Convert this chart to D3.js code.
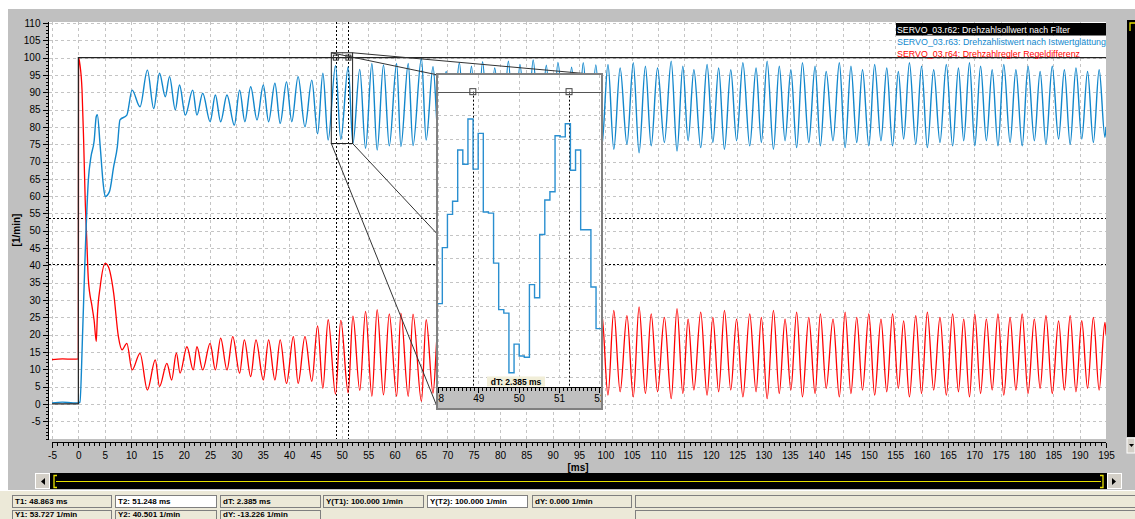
<!DOCTYPE html>
<html>
<head>
<meta charset="utf-8">
<script src="https://cdnjs.cloudflare.com/ajax/libs/d3/7.8.5/d3.min.js"></script>
<style>
body { margin: 0; background: #fff; }
svg { display: block; font-family: "Liberation Sans", Arial, sans-serif; }
.grid line { stroke: #c4c4c4; stroke-dasharray: 3,3; shape-rendering: crispEdges; }
.axis path, .axis line { stroke: #000; shape-rendering: crispEdges; }
.axis text { font-size: 10px; fill: #000; }
.cursor { stroke: #000; stroke-dasharray: 2,2; shape-rendering: crispEdges; }
.statusbar text { font-size: 8px; font-weight: bold; fill: #000; }
</style>
</head>
<body>
<svg id="vis" width="1135" height="519"></svg>
<script>
// signal names
var legendLabels = ["SERVO_03.r62: Drehzahlsollwert nach Filter",
                    "SERVO_03.r63: Drehzahlistwert nach Istwertglättung",
                    "SERVO_03.r64: Drehzahlregler Regeldifferenz"];
var legendColors = ["#fff", "#1287cc", "#ff0000"];

// setpoint r62  [ms, 1/min]
var setpoint = [[-5, 0], [0, 0], [0, 100], [195, 100]];

var actual = [[-5,0.3],[-3,0.5],[-1,0.3],[0,0.3],[0.3,0.5],[0.8,20],[1.3,43.6],[1.9,64.7],[2.4,71.4],[3.0,76],[3.4,83],[3.6,83.5],
  [4.15,74.3],[4.7,63.8],[5.1,59.9],[5.9,61.3],[6.7,68.5],[7.4,74.3],[7.9,82],[9.2,83.4],[10.2,90.6],[11.7,85.8],[13.1,96.4],
  [14.3,85.3],[15.4,95.5],[16.5,88.7],[17.3,94.5],[18.4,84.9],[19.2,92.1],[20.3,83.4],[21.7,90.6],[22.5,83.4],[23.6,89.7],
  [25,81.5],[26,89.2],[27,81.5],[28.2,89.2],[29.6,80.5],[30.6,90.6],[31.6,81.5],[32.7,91.6],[33.9,82],[35.1,92.1],[36.1,81.5],
  [37.3,92.6],[38.3,81],[39.5,93],[40.5,81.5],[41.7,94.5],[43,80],[44.3,93.5],[45.4,78],[46.4,95.5],[47.4,76.2],[48.8,97.7],
  [49.8,76.4],[51.2,97.3],[52.1,75.2],[53.4,96.6],[54.5,73.8],[55.7,98.3],[56.7,73.3],[57.9,97.9],[59.0,74.5],[60.4,98.3],
  [61.2,74.3],[62.6,98.3],[63.5,74.6],[65.1,99.8],[66.0,76.2],[67.3,97.4],[68.4,75],[69.8,96],[70.9,74.5],[72.3,98.5],
  [73.4,75.5],[74.6,97.5],[75.6,74],[76.7,98.8],[77.9,75],[79.0,97],[80.4,74.5],[81.6,99],[82.7,75.5],[83.8,98],[85.1,74],
  [86.3,99.3],[87.6,75],[88.8,97.8],[89.9,74.5],[91.0,98.6],[92.4,75],[93.6,97.2],[94.7,74],[95.8,98.5],[97.0,75.5],[98.2,97.9],
  [99.3,74],[100.5,98],[101.6,73.5],[102.8,97],[104.1,75],[105.3,98.5],[106.4,72.5],[107.6,97.5],[108.7,74.5],[109.9,97],
  [111.2,75.5],[112.5,99],[113.6,73],[114.7,97.5],[115.7,76],[116.8,96.5],[118.1,74],[119.3,98],[120.4,75.5],[121.5,97],
  [122.6,73.5],[123.8,96.5],[124.9,76],[126.1,98.5],[127.4,74.5],[128.6,97],[129.6,75.5],[130.7,99],[131.9,73.5],[133.0,97.5],
  [134.1,76],[135.2,96.5],[136.3,74],[137.4,98.5],[138.6,75.5],[139.8,97.5],[140.8,74.5],[141.9,96],[143.2,76],[144.4,98.5],
  [145.5,74],[146.6,97.5],[147.7,75.5],[148.8,96.5],[150.0,74.5],[151.1,98],[152.3,76],[153.4,97],[154.5,74.5],[155.6,96],
  [156.6,76.5],[157.7,98.5],[158.9,75],[160.0,97.5],[161.1,74],[162.3,96.5],[163.5,75.5],[164.7,98],[165.9,74.5],[167.0,97],
  [168.0,76],[169.1,98.5],[170.1,74.5],[171.2,97.5],[172.3,76],[173.4,96.5],[174.5,74.5],[175.6,98],[176.8,75.5],[177.9,96.5],
  [179.1,74.5],[180.2,97.5],[181.4,76],[182.5,96],[183.6,75],[184.8,97.5],[186.0,76.5],[187.1,96.5],[188.2,75],[189.3,97],
  [190.4,76.5],[191.5,96],[192.6,75.5],[193.7,96.5],[194.8,77],[195,80]];

// control error r64
var error = [[-5,12.8],[-3,13],[-1,12.9],[0,13],[0.05,100],[0.3,98],[0.7,90.6],[1.0,76.2],[1.3,58.9],[1.6,47.3],[1.9,35.8],
  [2.6,28.1],[3.0,24],[3.4,18],[3.6,25.2],[4.15,33.9],[5.1,40.6],[5.7,39.6],[6.7,32],[7.6,19.4],[8.3,15.6],[9.2,17.5],[10.2,9.8],
  [11.7,14.6],[13.1,4],[14.6,12.7],[15.4,5],[16.8,11.7],[17.7,6.9],[18.6,14.7],[19.3,8.9],[20.6,16.5],[21.8,9.8],[22.5,16.5],
  [23.6,9.8],[25,17.5],[26,9.8],[27,19],[28.2,9.8],[29.3,19.4],[30.6,8.9],[31.5,18.5],[32.7,7.9],[33.7,18.5],[35.1,6.9],
  [36.1,18.5],[37.3,6.9],[38.3,18.5],[39.5,5.9],[40.8,19.4],[41.7,5.9],[43,19.4],[44.3,6.5],[45.4,22.5],[46.4,4.5],[47.4,24.3],
  [48.8,2.8],[49.8,24.1],[51.2,3.2],[52.1,25.3],[53.4,3.9],[54.5,26.7],[55.7,2.2],[56.7,27.2],[57.9,2.6],[59.0,26],[60.4,2.2],
  [61.2,26.2],[62.6,2.2],[63.5,25.9],[65.1,0.7],[66.0,24.3],[67.3,3.1],[68.4,25.5],[69.8,4.5],[70.9,26],[72.3,2],[73.4,25],
  [74.6,3],[75.6,26.5],[76.7,1.5],[77.9,25.5],[79.0,3.5],[80.4,26],[81.6,1.5],[82.7,25],[83.8,2.5],[85.1,26.5],[86.3,1],
  [87.6,25.5],[88.8,2.5],[89.9,26],[91.0,2],[92.4,25.5],[93.6,3.5],[94.7,26.5],[95.8,2],[97.0,25],[98.2,2.5],[99.3,26.5],
  [100.5,2.5],[101.6,27],[102.8,3.5],[104.1,25.5],[105.3,2],[106.4,28],[107.6,3],[108.7,26],[109.9,3.5],[111.2,25],[112.5,1.5],
  [113.6,27.5],[114.7,3],[115.7,24.5],[116.8,4],[118.1,26.5],[119.3,2.5],[120.4,25],[121.5,3.5],[122.6,27],[123.8,4],[124.9,24.5],
  [126.1,2],[127.4,26],[128.6,3.5],[129.6,25],[130.7,1.5],[131.9,27],[133.0,3],[134.1,24.5],[135.2,4],[136.3,26.5],[137.4,2],
  [138.6,25],[139.8,3],[140.8,26],[141.9,4.5],[143.2,24.5],[144.4,2],[145.5,26.5],[146.6,3],[147.7,25],[148.8,4],[150.0,26],
  [151.1,2.5],[152.3,24.5],[153.4,3.5],[154.5,26],[155.6,4.5],[156.6,24],[157.7,2],[158.9,25.5],[160.0,3],[161.1,26.5],[162.3,4],
  [163.5,25],[164.7,2.5],[165.9,26],[167.0,3.5],[168.0,24.5],[169.1,2],[170.1,26],[171.2,3],[172.3,24.5],[173.4,4],[174.5,26],
  [175.6,2.5],[176.8,25],[177.9,4],[179.1,26],[180.2,3],[181.4,24.5],[182.5,4.5],[183.6,25.5],[184.8,3],[186.0,24],[187.1,4],
  [188.2,25.5],[189.3,3.5],[190.4,24],[191.5,4.5],[192.6,25],[193.7,4],[194.8,23.5],[195,20]];

// zoom window samples of r63 (125 us raster)
var zoomStart = 47.98, zoomStep = 0.127;
var zoomSamples = [82.2,86.9,89.7,90.8,95.1,93.9,97.7,93.5,96.5,89.9,89.8,85.6,81.7,81.4,76.4,78.8,77.8,77.7,
                   83.8,82.7,88.0,90.9,91.6,96.3,96.2,97.3,93.4,95.1,88.4,88.4,83.6,80.1];
var zoomT = [48, 52.04], zoomV = [75.2, 101.4];
var zoomTicks = [48, 49, 50, 51, 52];

var cursorT = [48.863, 51.248], cursorV = [53.727, 40.501];
var statusRow1 = ["T1: 48.863 ms", "T2: 51.248 ms", "dT: 2.385 ms", "Y(T1):  100.000 1/min", "Y(T2): 100.000 1/min", "dY: 0.000 1/min", ""];
var statusRow2 = ["Y1: 53.727 1/min", "Y2: 40.501 1/min", "dY: -13.226 1/min", "", "", "", ""];

var W = 1135, H = 519,
    pL = 49, pR = 1106, pT = 22, pB = 439;

var svg = d3.select("#vis");

var x = d3.scaleLinear().domain([-5, 195]).range([52, 1106]),
    y = d3.scaleLinear().domain([-10, 110]).range([438.5, 23]);

// window background
svg.append("rect").attr("width", W).attr("height", H).attr("fill", "#fff");
svg.append("rect").attr("x", 8).attr("y", 9).attr("width", W - 8).attr("height", 481).attr("fill", "#c0c0c0");
svg.append("rect").attr("x", pL).attr("y", pT).attr("width", pR - pL).attr("height", pB - pT).attr("fill", "#fff");

svg.append("clipPath").attr("id", "plotclip")
    .append("rect").attr("x", pL).attr("y", pT).attr("width", pR - pL).attr("height", pB - pT);

var plot = svg.append("g").attr("clip-path", "url(#plotclip)");

// grid
var grid = plot.append("g").attr("class", "grid");
grid.selectAll(".gx").data(d3.range(-5, 196, 5)).enter().append("line")
    .attr("x1", function(d) { return Math.round(x(d)) + 0.5; })
    .attr("x2", function(d) { return Math.round(x(d)) + 0.5; })
    .attr("y1", pT).attr("y2", pB);
grid.selectAll(".gy").data(d3.range(-10, 111, 5)).enter().append("line")
    .attr("y1", function(d) { return Math.round(y(d)) + 0.5; })
    .attr("y2", function(d) { return Math.round(y(d)) + 0.5; })
    .attr("x1", pL).attr("x2", pR);

// cursors
plot.selectAll(".cx").data(cursorT).enter().append("line").attr("class", "cursor")
    .attr("x1", function(d) { return Math.round(x(d)) + 0.5; })
    .attr("x2", function(d) { return Math.round(x(d)) + 0.5; })
    .attr("y1", pT).attr("y2", pB);
plot.selectAll(".cy").data(cursorV).enter().append("line").attr("class", "cursor")
    .attr("y1", function(d) { return Math.round(y(d)) + 0.5; })
    .attr("y2", function(d) { return Math.round(y(d)) + 0.5; })
    .attr("x1", pL).attr("x2", pR);

var line = d3.line()
    .x(function(d) { return x(d[0]); })
    .y(function(d) { return y(d[1]); })
    .curve(d3.curveMonotoneX);

plot.append("path").datum(error).attr("d", line)
    .attr("fill", "none").attr("stroke", "#ff0000").attr("stroke-width", 1.3);
plot.append("path").datum(actual).attr("d", line)
    .attr("fill", "none").attr("stroke", "#1287cc").attr("stroke-width", 1.4);
plot.append("path").datum(setpoint).attr("d", line.curve(d3.curveLinear))
    .attr("fill", "none").attr("stroke", "#222").attr("stroke-width", 1.2);

// cursor markers on setpoint
plot.selectAll(".cm").data(cursorT).enter().append("rect")
    .attr("x", function(d) { return x(d) - 2.5; }).attr("y", y(100) - 2.5)
    .attr("width", 5).attr("height", 5).attr("fill", "none").attr("stroke", "#333");

// y axis
var yAxis = svg.append("g").attr("class", "axis").attr("transform", "translate(48.5,0)");
yAxis.call(d3.axisLeft(y).tickValues(d3.range(-10, 111, 1)).tickSize(3).tickFormat(""));
yAxis.append("g").call(d3.axisLeft(y).tickValues(d3.range(-5, 111, 5)).tickSize(6).tickPadding(2).tickFormat(String));
yAxis.selectAll(".domain").attr("d", "M0," + pT + "V" + pB);

// x axis
var xAxis = svg.append("g").attr("class", "axis").attr("transform", "translate(0,442.5)");
xAxis.call(d3.axisBottom(x).tickValues(d3.range(-5, 196, 1)).tickSize(3).tickFormat(""));
xAxis.append("g").call(d3.axisBottom(x).tickValues(d3.range(-5, 196, 5)).tickSize(5).tickPadding(4).tickFormat(String));
xAxis.selectAll(".domain").attr("d", "M" + x(-5) + ",0H" + x(195));

svg.append("text").attr("x", 578).attr("y", 470.5).attr("text-anchor", "middle")
    .attr("font-size", "10px").attr("font-weight", "bold").text("[ms]");
svg.append("text").attr("transform", "translate(20,230) rotate(-90)").attr("text-anchor", "middle")
    .attr("font-size", "10px").attr("font-weight", "bold").text("[1/min]");

// magnifier
var xz = d3.scaleLinear().domain(zoomT).range([438, 601]),
    yz = d3.scaleLinear().domain(zoomV).range([387, 75]);

var selRect = [x(zoomT[0]), y(zoomV[1]), x(zoomT[1]), y(zoomV[0])];
var links = [[selRect[0], selRect[1], 438, 75], [selRect[2], selRect[1], 601, 75],
             [selRect[0], selRect[3], 438, 409], [selRect[2], selRect[3], 601, 409]];
svg.selectAll(".link").data(links).enter().append("line")
    .attr("x1", function(d) { return d[0]; }).attr("y1", function(d) { return d[1]; })
    .attr("x2", function(d) { return d[2]; }).attr("y2", function(d) { return d[3]; })
    .attr("stroke", "#333").attr("stroke-width", 1);
svg.append("rect").attr("x", selRect[0]).attr("y", selRect[1])
    .attr("width", selRect[2] - selRect[0]).attr("height", selRect[3] - selRect[1])
    .attr("fill", "none").attr("stroke", "#222");

var inset = svg.append("g");
inset.append("rect").attr("x", 437).attr("y", 74).attr("width", 165).attr("height", 335)
    .attr("fill", "#fff").attr("stroke", "#808080").attr("stroke-width", 2);
inset.append("clipPath").attr("id", "zclip")
    .append("rect").attr("x", 438).attr("y", 75).attr("width", 163).attr("height", 312);
var zin = inset.append("g").attr("clip-path", "url(#zclip)");
var zgrid = zin.append("g").attr("class", "grid");
zgrid.selectAll("line.v").data(zoomTicks).enter().append("line")
    .attr("x1", function(d) { return Math.round(xz(d)) + 0.5; })
    .attr("x2", function(d) { return Math.round(xz(d)) + 0.5; })
    .attr("y1", 75).attr("y2", 387);
zgrid.selectAll("line.h").data(d3.range(76, 101, 2)).enter().append("line")
    .attr("y1", function(d) { return Math.round(yz(d)) + 0.5; })
    .attr("y2", function(d) { return Math.round(yz(d)) + 0.5; })
    .attr("x1", 438).attr("x2", 601);
zin.selectAll(".zc").data(cursorT).enter().append("line")
    .attr("x1", function(d) { return Math.round(xz(d)) + 0.5; })
    .attr("x2", function(d) { return Math.round(xz(d)) + 0.5; })
    .attr("y1", yz(100)).attr("y2", 387)
    .attr("stroke", "#000").attr("stroke-dasharray", "2,2");
var zpts = zoomSamples.map(function(v, i) { return [zoomStart + i * zoomStep, v]; });
zpts.push([zoomStart + zoomSamples.length * zoomStep, zoomSamples[zoomSamples.length - 1]]);
zin.append("path").datum(zpts)
    .attr("d", d3.line().x(function(d) { return xz(d[0]); }).y(function(d) { return yz(d[1]); }).curve(d3.curveStepAfter))
    .attr("fill", "none").attr("stroke", "#2a8fd0").attr("stroke-width", 1.4);
zin.append("line").attr("x1", 438).attr("x2", 601)
    .attr("y1", Math.round(yz(100)) + 0.5).attr("y2", Math.round(yz(100)) + 0.5)
    .attr("stroke", "#555").attr("stroke-width", 1.2);
zin.selectAll(".zm").data(cursorT).enter().append("rect")
    .attr("x", function(d) { return xz(d) - 3; }).attr("y", yz(100) - 3)
    .attr("width", 6).attr("height", 6).attr("fill", "none").attr("stroke", "#444");

// dT label
inset.append("rect").attr("x", 487).attr("y", 376.5).attr("width", 58).attr("height", 10).attr("fill", "#f1eed8");
inset.append("text").attr("x", 516).attr("y", 385).attr("text-anchor", "middle")
    .attr("font-size", "8.5px").attr("font-weight", "bold").text("dT: 2.385 ms");

// zoom axis strip
inset.append("rect").attr("x", 438).attr("y", 387).attr("width", 163).attr("height", 21).attr("fill", "#c0c0c0");
inset.append("clipPath").attr("id", "zaclip")
    .append("rect").attr("x", 438).attr("y", 386).attr("width", 163).attr("height", 23);
var zax = inset.append("g").attr("clip-path", "url(#zaclip)")
    .append("g").attr("class", "axis").attr("transform", "translate(0,387.5)");
zax.call(d3.axisBottom(xz).tickValues(d3.range(48, 52.05, 0.1)).tickSize(3).tickFormat(""));
zax.append("g").call(d3.axisBottom(xz).tickValues(zoomTicks).tickSize(5).tickPadding(2).tickFormat(String));
zax.selectAll(".domain").attr("d", "M438,0H601");

// legend
var legend = svg.append("g");
legend.append("rect").attr("x", 896).attr("y", 23).attr("width", 210).attr("height", 12.5).attr("fill", "#000");
legend.append("rect").attr("x", 896).attr("y", 36).attr("width", 210).attr("height", 21).attr("fill", "#fff");
var legendW = [173, 209, 183];
legend.selectAll("text").data(legendLabels).enter().append("text")
    .attr("x", 897).attr("y", function(d, i) { return 33 + i * 12.2; })
    .attr("font-size", "9.5px").attr("fill", function(d, i) { return legendColors[i]; })
    .attr("textLength", function(d, i) { return legendW[i]; }).attr("lengthAdjust", "spacingAndGlyphs")
    .text(String);

// right scroll
svg.append("rect").attr("x", 1127).attr("y", 20).attr("width", 8).attr("height", 417).attr("fill", "#000");
svg.append("path").attr("d", "M1135,23H1130V31").attr("fill", "none").attr("stroke", "#e8e000").attr("stroke-width", 1.3);
svg.append("rect").attr("x", 1127).attr("y", 438).attr("width", 8).attr("height", 15).attr("fill", "#d4d0c8").attr("stroke", "#fff");
svg.append("path").attr("d", "M1129,444h5l-2.5,3z").attr("fill", "#000");

// bottom scrollbar
svg.append("rect").attr("x", 50).attr("y", 473).attr("width", 1057).attr("height", 16).attr("fill", "#000");
svg.append("line").attr("x1", 56).attr("x2", 1101).attr("y1", 481.5).attr("y2", 481.5).attr("stroke", "#e8e000");
svg.append("path").attr("d", "M57,475.5h-3v12h3").attr("fill", "none").attr("stroke", "#e8e000").attr("stroke-width", 1.3);
svg.append("path").attr("d", "M1100,475.5h3v12h-3").attr("fill", "none").attr("stroke", "#e8e000").attr("stroke-width", 1.3);
[[35, "M45,478v7l-4,-3.5z"], [1107, "M1112,478v7l4,-3.5z"]].forEach(function(b) {
    svg.append("rect").attr("x", b[0] + 0.5).attr("y", 473.5).attr("width", 14).attr("height", 15)
        .attr("fill", "#d4d0c8").attr("stroke", "#fff");
    svg.append("path").attr("d", b[1]).attr("fill", "#000");
});

// status bar
var statusG = svg.append("g").attr("class", "statusbar");
statusG.append("rect").attr("x", 0).attr("y", 490).attr("width", W).attr("height", 29).attr("fill", "#ece9d8");
statusG.append("line").attr("x1", 0).attr("x2", W).attr("y1", 490.5).attr("y2", 490.5).attr("stroke", "#fff");
var boxX = [12, 115, 220, 323, 427, 532, 635],
    boxR = [111, 216, 320, 423, 527, 631, 1135],
    whiteBox = [1, 4];
[statusRow1, statusRow2].forEach(function(row, r) {
    row.forEach(function(txt, i) {
        if (r == 1 && i > 2 && i < 6) return;
        var by = r == 0 ? 495.5 : 510.5;
        statusG.append("rect").attr("x", boxX[i] + 0.5).attr("y", by)
            .attr("width", boxR[i] - boxX[i]).attr("height", 12)
            .attr("fill", (r == 0 && whiteBox.indexOf(i) >= 0) ? "#fff" : "#ece9d8")
            .attr("stroke", "#7f7f7f");
        statusG.append("text").attr("x", boxX[i] + 3).attr("y", r == 0 ? by + 8 : 516.5).text(txt);
    });
});
</script>
</body>
</html>
